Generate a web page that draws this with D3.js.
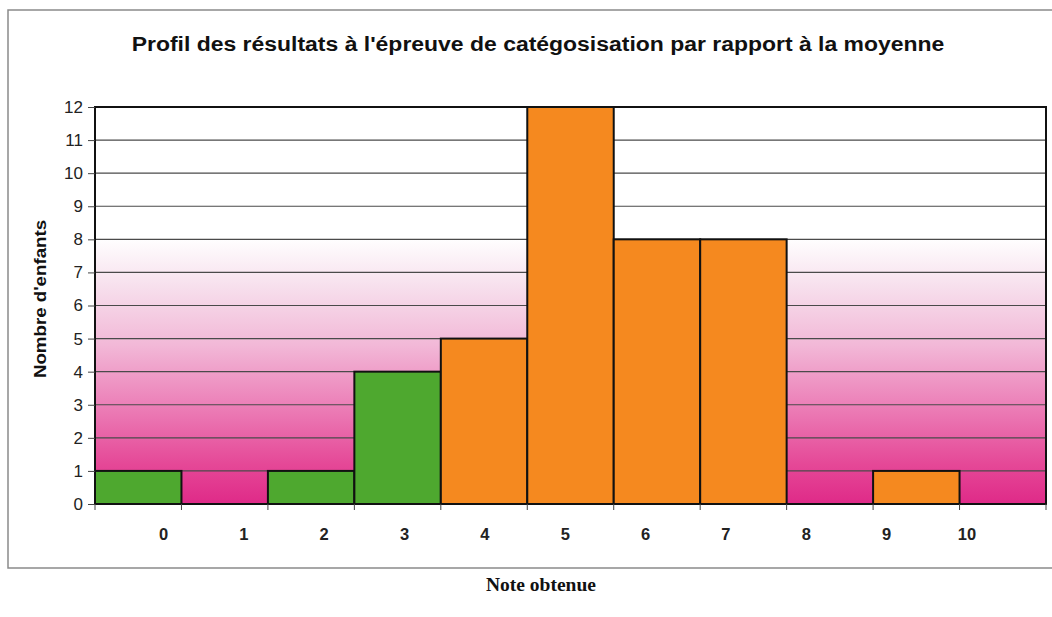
<!DOCTYPE html>
<html><head><meta charset="utf-8">
<script src="https://cdn.jsdelivr.net/npm/d3@7"></script>
<style>body{margin:0;background:#fff}</style>
</head><body>
<svg id="c" width="1052" height="617"></svg>
<script>
const categories = ["0","1","2","3","4","5","6","7","8","9","10"];
const counts = [1,0,1,4,5,12,8,8,0,1,0];
const groups = ["g","g","g","g","o","o","o","o","o","o","o"];
const yTicks = [0,1,2,3,4,5,6,7,8,9,10,11,12];
const title = "Profil des résultats à l'épreuve de catégosisation par rapport à la moyenne";

const svg = d3.select("#c");
const L = 95, R = 1046, T = 107, B = 504;
const SANS = "Liberation Sans, Arial, sans-serif";

// frame
svg.append("rect").attr("x",8).attr("y",10).attr("width",1060).attr("height",558)
  .attr("fill","#fff").attr("stroke","#8a8a8a").attr("stroke-width",1.5);

const defs = svg.append("defs");
const g = defs.append("linearGradient").attr("id","bg").attr("x1",0).attr("y1",0).attr("x2",0).attr("y2",1);
[[0,"#ffffff"],[0.33,"#ffffff"],[0.45,"#f7e0ed"],[0.6,"#f2b8d7"],[0.75,"#ec80b8"],[0.9,"#e54897"],[1,"#df2a88"]]
  .forEach(([o,c])=>g.append("stop").attr("offset",o).attr("stop-color",c));

const x = d3.scaleBand().domain(categories).range([L,R]).padding(0);
const y = d3.scaleLinear().domain([0,12]).range([B,T]);
const xl = d3.scalePoint().domain(categories).range([163.5,967]);

svg.append("rect").attr("x",L).attr("y",T).attr("width",R-L).attr("height",B-T).attr("fill","url(#bg)");

// gridlines
svg.append("g").selectAll("line").data(yTicks.slice(1)).join("line")
  .attr("x1",L).attr("x2",R).attr("y1",d=>y(d)).attr("y2",d=>y(d))
  .attr("stroke","#4a4a4a").attr("stroke-width",1.2);

// bars
const col = {g:"#4ea82f", o:"#f5891f"};
svg.append("g").selectAll("rect").data(counts.map((v,i)=>({c:categories[i],v,gr:groups[i]})).filter(d=>d.v>0))
  .join("rect")
  .attr("x",d=>x(d.c)).attr("width",x.bandwidth())
  .attr("y",d=>y(d.v)).attr("height",d=>y(0)-y(d.v))
  .attr("fill",d=>col[d.gr]).attr("stroke","#111").attr("stroke-width",2);

// plot border
svg.append("rect").attr("x",L).attr("y",T).attr("width",R-L).attr("height",B-T)
  .attr("fill","none").attr("stroke","#111").attr("stroke-width",2);

// y axis
const ya = svg.append("g").attr("transform",`translate(${L},0)`)
  .call(d3.axisLeft(y).tickValues(yTicks).tickSize(7).tickPadding(5).tickFormat(d3.format("d")));
ya.select(".domain").remove();
ya.selectAll("line").attr("stroke","#444");
ya.selectAll("text").attr("font-family",SANS).attr("font-size",17).attr("fill","#222");

// x tick marks at bin boundaries
svg.append("g").selectAll("line").data(categories).join("line")
  .attr("x1",d=>x(d)+x.bandwidth()).attr("x2",d=>x(d)+x.bandwidth())
  .attr("y1",B).attr("y2",B+6).attr("stroke","#444");
svg.append("line").attr("x1",L).attr("x2",L).attr("y1",B).attr("y2",B+6).attr("stroke","#444");

// x labels
svg.append("g").selectAll("text").data(categories).join("text")
  .attr("x",d=>xl(d)).attr("y",540).attr("text-anchor","middle")
  .attr("font-family",SANS).attr("font-weight","bold").attr("font-size",16.5)
  .attr("fill","#222").text(d=>d);

// title
svg.append("text").attr("transform","translate(538,51) scale(1.12,1)").attr("text-anchor","middle")
  .attr("font-family",SANS).attr("font-weight","bold").attr("font-size",20.5)
  .attr("fill","#111").text(title);

// y label
svg.append("text").attr("transform","translate(46,299) rotate(-90) scale(1.1,1)").attr("text-anchor","middle")
  .attr("font-family",SANS).attr("font-weight","bold").attr("font-size",17)
  .attr("fill","#111").text("Nombre d'enfants");

// x label
svg.append("text").attr("x",541).attr("y",591).attr("text-anchor","middle")
  .attr("font-family","Liberation Serif, Times New Roman, serif").attr("font-weight","bold").attr("font-size",19.5)
  .attr("fill","#111").text("Note obtenue");
</script>
</body></html>
